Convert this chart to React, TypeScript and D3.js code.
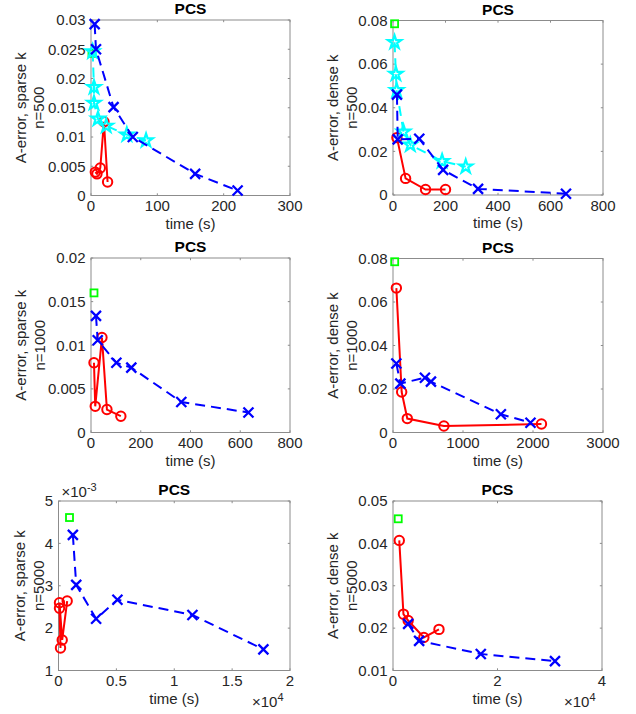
import React from 'react';
import * as d3 from 'd3';

// ---------- Panel 1: sparse k, n=500 ----------
const p1BlueX = [5.5, 7.5, 34, 63, 157, 221];
const p1BlueY = [0.0293, 0.025, 0.0151, 0.01, 0.0037, 0.00085];
const p1CyanX = [2.5, 4.5, 4.5, 10.5, 23, 54, 83];
const p1CyanY = [0.0246, 0.0185, 0.0158, 0.0131, 0.0119, 0.0104, 0.0094];
const p1RedX = [6.5, 9, 14, 19.5, 25];
const p1RedY = [0.004, 0.0037, 0.0047, 0.0126, 0.0023];
const p1GreenX = [1.5];
const p1GreenY = [0.0243];

// ---------- Panel 2: dense k, n=500 ----------
const p2BlueX = [15, 18, 100, 191, 324, 659];
const p2BlueY = [0.046, 0.0255, 0.0258, 0.0115, 0.0028, 0.0006];
const p2CyanX = [6, 11, 14, 40, 66, 187, 277];
const p2CyanY = [0.07, 0.0555, 0.048, 0.029, 0.023, 0.0155, 0.013];
const p2RedX = [15, 48, 124, 200];
const p2RedY = [0.0263, 0.0076, 0.0025, 0.0025];
const p2GreenX = [6];
const p2GreenY = [0.0785];

// ---------- Panel 3: sparse k, n=1000 ----------
const p3BlueX = [20, 27, 102, 162, 363, 633];
const p3BlueY = [0.01336, 0.01057, 0.008, 0.00744, 0.0035, 0.00229];
const p3RedX = [12, 17, 44, 64, 120];
const p3RedY = [0.008, 0.003, 0.01088, 0.00263, 0.00187];
const p3GreenX = [12];
const p3GreenY = [0.016];

// ---------- Panel 4: dense k, n=1000 ----------
const p4BlueX = [48, 105, 456, 542, 1541, 1964];
const p4BlueY = [0.0317, 0.0225, 0.0252, 0.0234, 0.0084, 0.0045];
const p4RedX = [48, 124, 204, 727, 2121];
const p4RedY = [0.0664, 0.0186, 0.0064, 0.003, 0.0039];
const p4GreenX = [24];
const p4GreenY = [0.0785];

// ---------- Panel 5: sparse k, n=5000 ----------
const p5BlueX = [1240, 1530, 3250, 5090, 11570, 17700];
const p5BlueY = [0.0042, 0.00302, 0.00222, 0.00267, 0.00231, 0.0015];
const p5RedX = [173, 86, 86, 320, 750];
const p5RedY = [0.00153, 0.00247, 0.0026, 0.00172, 0.00264];
const p5GreenX = [950];
const p5GreenY = [0.00461];

// ---------- Panel 6: dense k, n=5000 ----------
const p6BlueX = [2900, 5000, 16800, 31000];
const p6BlueY = [0.021, 0.017, 0.0139, 0.0122];
const p6RedX = [1200, 2000, 2900, 5900, 8800];
const p6RedY = [0.0407, 0.0233, 0.0218, 0.0178, 0.0197];
const p6GreenX = [1000];
const p6GreenY = [0.0458];

// tick values
const xTicks300 = [0, 100, 200, 300];
const xTicks800 = [0, 200, 400, 600, 800];
const xTicks3000 = [0, 1000, 2000, 3000];
const xTicks2e4 = [0, 5000, 10000, 15000, 20000];
const xTicks4e4 = [0, 20000, 40000];
const yTicks003 = [0, 0.005, 0.01, 0.015, 0.02, 0.025, 0.03];
const yTicks008 = [0, 0.02, 0.04, 0.06, 0.08];
const yTicks002 = [0, 0.005, 0.01, 0.015, 0.02];
const yTicks5e3 = [0.001, 0.002, 0.003, 0.004, 0.005];
const yTicks005 = [0.01, 0.02, 0.03, 0.04, 0.05];

const FONT = 'Liberation Sans, Arial, Helvetica, sans-serif';
const TXT = '#262626';
const FS = 15;

type Series = { xs: number[]; ys: number[]; color: string; dash?: string; marker: string; line: boolean };

const zip = (xs: number[], ys: number[]) => xs.map((x, i) => [x, ys[i]] as [number, number]);

function pentagram(R: number) {
  const r = R * 0.382;
  const pts: string[] = [];
  for (let i = 0; i < 10; i++) {
    const rad = i % 2 === 0 ? R : r;
    const a = -Math.PI / 2 + (i * Math.PI) / 5;
    pts.push(`${(rad * Math.cos(a)).toFixed(2)},${(rad * Math.sin(a)).toFixed(2)}`);
  }
  return 'M' + pts.join('L') + 'Z';
}

function Marker({ type, x, y, color }: { type: string; x: number; y: number; color: string }) {
  if (type === 'x') {
    const s = 5;
    return <path d={`M${x - s},${y - s}L${x + s},${y + s}M${x - s},${y + s}L${x + s},${y - s}`} stroke={color} strokeWidth={2.3} fill="none" />;
  }
  if (type === 'o') return <circle cx={x} cy={y} r={4.7} stroke={color} strokeWidth={2} fill="none" />;
  if (type === 'p') return <path transform={`translate(${x},${y})`} d={pentagram(7)} stroke={color} strokeWidth={2.2} fill="none" strokeLinejoin="miter" />;
  if (type === 's') return <rect x={x - 3.5} y={y - 3.5} width={7} height={7} stroke={color} strokeWidth={1.8} fill="none" />;
  return null;
}

type PanelProps = {
  x0: number; x1: number; y0: number; y1: number;
  xDomain: [number, number]; yDomain: [number, number];
  xTicks: number[]; yTicks: number[];
  xFmt: (v: number) => string; yFmt: (v: number) => string;
  series: Series[];
  ylab1: string; ylab2: string; ylabX1: number; ylabX2: number;
  yExp?: string; xExp?: string;
};

function Panel(p: PanelProps) {
  const xs = d3.scaleLinear().domain(p.xDomain).range([p.x0, p.x1]);
  const ys = d3.scaleLinear().domain(p.yDomain).range([p.y1, p.y0]);
  const line = d3.line<[number, number]>().x(d => xs(d[0])).y(d => ys(d[1]));
  const tl = 2.2;
  const cy = (p.y0 + p.y1) / 2;
  const cx = (p.x0 + p.x1) / 2;
  return (
    <g fontFamily={FONT}>
      <rect x={p.x0} y={p.y0} width={p.x1 - p.x0} height={p.y1 - p.y0} fill="#fff" stroke="#8c8c8c" strokeWidth={1} />
      {p.xTicks.map(t => (
        <g key={'xt' + t}>
          <line x1={xs(t)} x2={xs(t)} y1={p.y1} y2={p.y1 - tl} stroke="#8c8c8c" />
          <line x1={xs(t)} x2={xs(t)} y1={p.y0} y2={p.y0 + tl} stroke="#8c8c8c" />
          <text x={xs(t)} y={p.y1 + 15.5} textAnchor="middle" fontSize={FS} fill={TXT}>{p.xFmt(t)}</text>
        </g>
      ))}
      {p.yTicks.map(t => (
        <g key={'yt' + t}>
          <line x1={p.x0} x2={p.x0 + tl} y1={ys(t)} y2={ys(t)} stroke="#8c8c8c" />
          <line x1={p.x1} x2={p.x1 - tl} y1={ys(t)} y2={ys(t)} stroke="#8c8c8c" />
          <text x={p.x0 - 5.5} y={ys(t)} dy="0.35em" textAnchor="end" fontSize={FS} fill={TXT}>{p.yFmt(t)}</text>
        </g>
      ))}
      {p.series.map((s, i) => {
        const pts = zip(s.xs, s.ys);
        return (
          <g key={'s' + i}>
            {s.line && <path d={line(pts) || ''} stroke={s.color} strokeWidth={2} fill="none" strokeDasharray={s.dash} />}
            {pts.map((d, j) => <Marker key={j} type={s.marker} x={xs(d[0])} y={ys(d[1])} color={s.color} />)}
          </g>
        );
      })}
      <text x={cx} y={p.y0 - 6} textAnchor="middle" fontSize={15.5} fontWeight="bold" fill="#000">PCS</text>
      <text x={cx} y={p.y1 + 33} textAnchor="middle" fontSize={FS} fill={TXT}>time (s)</text>
      <text transform={`translate(${p.ylabX1},${cy}) rotate(-90)`} dy="0.35em" textAnchor="middle" fontSize={FS} fill={TXT}>{p.ylab1}</text>
      <text transform={`translate(${p.ylabX2},${cy}) rotate(-90)`} dy="0.35em" textAnchor="middle" fontSize={FS} fill={TXT}>{p.ylab2}</text>
      {p.yExp && (
        <text x={p.x0 + 3} y={p.y0 - 4} fontSize={FS} fill={TXT}>×10<tspan dy={-6} fontSize={11}>{p.yExp}</tspan></text>
      )}
      {p.xExp && (
        <text x={p.x1 - 38} y={p.y1 + 36} fontSize={FS} fill={TXT}>×10<tspan dy={-6} fontSize={11}>{p.xExp}</tspan></text>
      )}
    </g>
  );
}

const fmtPlain = (v: number) => String(+v.toFixed(4));

function mk(bx: number[], by: number[], rx: number[], ry: number[], gx: number[], gy: number[], cx?: number[], cyv?: number[]): Series[] {
  const arr: Series[] = [{ xs: gx, ys: gy, color: '#00ff00', marker: 's', line: false }];
  arr.push({ xs: rx, ys: ry, color: '#ff0000', marker: 'o', line: true });
  if (cx && cyv) arr.push({ xs: cx, ys: cyv, color: '#00ffff', marker: 'p', line: true, dash: '10,6' });
  arr.push({ xs: bx, ys: by, color: '#0000ff', marker: 'x', line: true, dash: '10,6' });
  return arr;
}

export default function App() {
  return (
    <svg width={636} height={714} style={{ position: 'absolute', left: 0, top: 0, background: '#fff' }}>
      <rect width={636} height={714} fill="#fff" />
      <Panel x0={91} x1={290} y0={20} y1={195.5} xDomain={[0, 300]} yDomain={[0, 0.03]}
        xTicks={xTicks300} yTicks={yTicks003} xFmt={fmtPlain} yFmt={fmtPlain}
        series={mk(p1BlueX, p1BlueY, p1RedX, p1RedY, p1GreenX, p1GreenY, p1CyanX, p1CyanY)}
        ylab1="A-error, sparse k" ylab2="n=500" ylabX1={21} ylabX2={39} />
      <Panel x0={393} x1={603} y0={20.5} y1={195} xDomain={[0, 800]} yDomain={[0, 0.08]}
        xTicks={xTicks800} yTicks={yTicks008} xFmt={fmtPlain} yFmt={fmtPlain}
        series={mk(p2BlueX, p2BlueY, p2RedX, p2RedY, p2GreenX, p2GreenY, p2CyanX, p2CyanY)}
        ylab1="A-error, dense k" ylab2="n=500" ylabX1={332.5} ylabX2={352} />
      <Panel x0={91} x1={290} y0={258} y1={432.5} xDomain={[0, 800]} yDomain={[0, 0.02]}
        xTicks={xTicks800} yTicks={yTicks002} xFmt={fmtPlain} yFmt={fmtPlain}
        series={mk(p3BlueX, p3BlueY, p3RedX, p3RedY, p3GreenX, p3GreenY)}
        ylab1="A-error, sparse k" ylab2="n=1000" ylabX1={21} ylabX2={40} />
      <Panel x0={393} x1={603} y0={258.5} y1={432.5} xDomain={[0, 3000]} yDomain={[0, 0.08]}
        xTicks={xTicks3000} yTicks={yTicks008} xFmt={fmtPlain} yFmt={fmtPlain}
        series={mk(p4BlueX, p4BlueY, p4RedX, p4RedY, p4GreenX, p4GreenY)}
        ylab1="A-error, dense k" ylab2="n=1000" ylabX1={332.5} ylabX2={352} />
      <Panel x0={58.5} x1={290} y0={501} y1={670.5} xDomain={[0, 20000]} yDomain={[0.001, 0.005]}
        xTicks={xTicks2e4} yTicks={yTicks5e3} xFmt={v => String(v / 10000)} yFmt={v => String(Math.round(v * 1000))}
        series={mk(p5BlueX, p5BlueY, p5RedX, p5RedY, p5GreenX, p5GreenY)}
        ylab1="A-error, sparse k" ylab2="n=5000" ylabX1={20} ylabX2={39} yExp="-3" xExp="4" />
      <Panel x0={393} x1={602} y0={501} y1={670.5} xDomain={[0, 40000]} yDomain={[0.01, 0.05]}
        xTicks={xTicks4e4} yTicks={yTicks005} xFmt={v => String(v / 10000)} yFmt={fmtPlain}
        series={mk(p6BlueX, p6BlueY, p6RedX, p6RedY, p6GreenX, p6GreenY)}
        ylab1="A-error, dense k" ylab2="n=5000" ylabX1={332.5} ylabX2={352} xExp="4" />
    </svg>
  );
}
